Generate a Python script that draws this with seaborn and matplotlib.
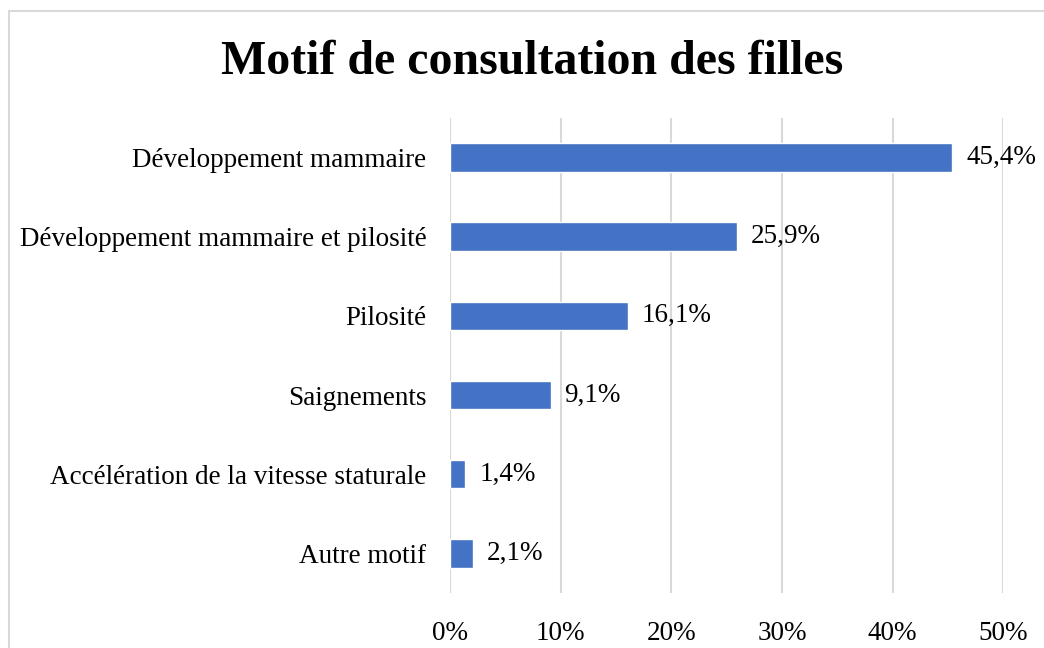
import matplotlib.pyplot as plt
import matplotlib.patches as mpatches
import seaborn as sns
import pandas as pd

# Données
motifs = ['Développement mammaire', 'Développement mammaire et pilosité', 'Pilosité',
          'Saignements', 'Accélération de la vitesse staturale', 'Autre motif']
pourcentages = [45.4, 25.9, 16.1, 9.1, 1.4, 2.1]
etiquettes = ['45,4%', '25,9%', '16,1%', '9,1%', '1,4%', '2,1%']
graduations = [0, 10, 20, 30, 40, 50]
graduations_txt = ['0%', '10%', '20%', '30%', '40%', '50%']

df = pd.DataFrame({'Motif': motifs, 'Pourcentage': pourcentages})

sns.set_style('white')
plt.rcParams['font.family'] = ['Liberation Serif', 'DejaVu Serif']
plt.rcParams['text.color'] = 'black'
plt.rcParams['xtick.color'] = 'black'
plt.rcParams['ytick.color'] = 'black'

fig = plt.figure(figsize=(10.44, 6.48), dpi=100)
ax = fig.add_axes([0.431, 0.085, 0.530, 0.733])

sns.barplot(data=df, x='Pourcentage', y='Motif', color='#4472C4', saturation=1,
            width=0.36, ax=ax)

ax.bar_label(ax.containers[0], labels=etiquettes, padding=10, fontsize=19.5,
             color='black')

ax.set_xlim(0, 50)
ax.set_ylim(5.5, -0.5)
ax.set_xticks(graduations)
ax.set_xticklabels(graduations_txt, fontsize=19.5)
ax.tick_params(axis='y', labelsize=19.5, length=0, pad=17)
ax.tick_params(axis='x', length=0, pad=20)
ax.set_xlabel('')
ax.set_ylabel('')
ax.grid(axis='x', color='#D9D9D9', linewidth=1.5)
ax.set_axisbelow(True)
for s in ax.spines.values():
    s.set_visible(False)

fig.text(0.51, 0.905, 'Motif de consultation des filles', ha='center', va='center',
         fontsize=34.5, fontweight='bold', color='black')

# cadre du graphique
fig.patches.append(mpatches.Rectangle((9 / 1044, -0.05), 1.2, 1 - 11 / 648 + 0.05,
                                      transform=fig.transFigure, fill=False,
                                      edgecolor='#D9D9D9', linewidth=1.5))

fig.savefig('out.png', dpi=100)
